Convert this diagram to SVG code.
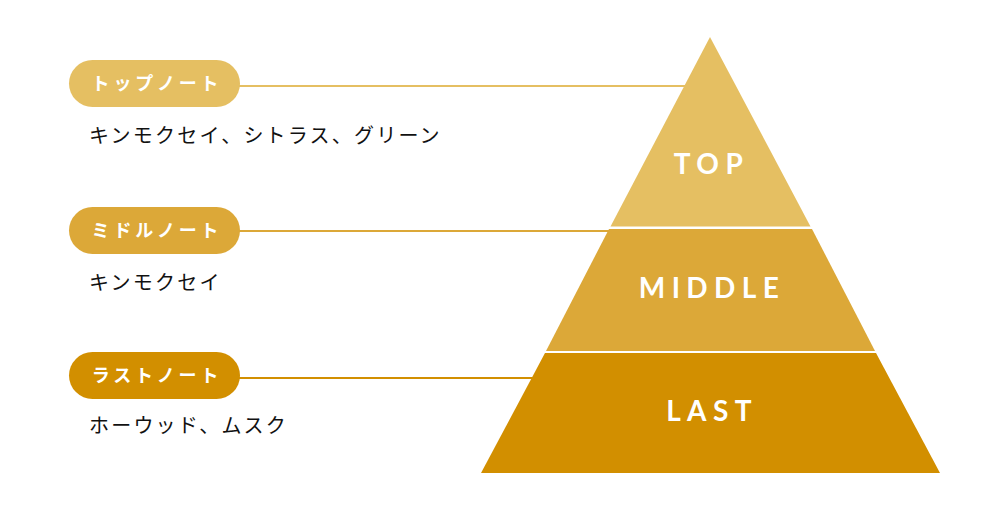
<svg xmlns="http://www.w3.org/2000/svg" width="1000" height="515" viewBox="0 0 1000 515">
<style>
.pill-t{font-family:"Noto Sans CJK JP","Noto Sans",sans-serif;font-weight:700;font-size:18px;fill:#fff;letter-spacing:3.8px;text-anchor:middle}
.desc{font-family:"Noto Sans CJK JP","Noto Sans",sans-serif;font-weight:400;font-size:20px;fill:#111;letter-spacing:2.2px}
.lvl{font-family:Lato,"Open Sans",sans-serif;font-weight:700;font-size:28px;fill:#fff;letter-spacing:6.4px;text-anchor:middle}
.conn{stroke-width:2;fill:none}
</style>
<rect width="1000" height="515" fill="#fff"/>
<g id="connectors">
<line class="conn" x1="235" y1="86" x2="686" y2="86" stroke="#E5BF62"/>
<line class="conn" x1="235" y1="231" x2="610" y2="231" stroke="#DCA838"/>
<line class="conn" x1="235" y1="378" x2="533" y2="378" stroke="#D28F00"/>
</g>
<g id="pyramid">
<polygon id="top" points="710,37 810.5,226.5 610.5,226.5" fill="#E5BF62"/>
<polygon id="middle" points="609,229 812,229 875,351 546,351" fill="#DCA838"/>
<polygon id="last" points="545,353 876,353 940,473 481,473" fill="#D28F00"/>
<text class="lvl" x="711.5" y="174">TOP</text>
<text class="lvl" x="712" y="298">MIDDLE</text>
<text class="lvl" x="712" y="421">LAST</text>
</g>
<g id="note-top">
<rect x="69" y="60" width="171" height="47" rx="23.5" fill="#E5BF62"/>
<text class="pill-t" x="157" y="90">トップノート</text>
<text class="desc" x="89" y="143">キンモクセイ、シトラス、グリーン</text>
</g>
<g id="note-middle">
<rect x="69" y="207" width="171" height="47" rx="23.5" fill="#DCA838"/>
<text class="pill-t" x="157" y="237">ミドルノート</text>
<text class="desc" x="89" y="290">キンモクセイ</text>
</g>
<g id="note-last">
<rect x="69" y="352" width="171" height="47" rx="23.5" fill="#D28F00"/>
<text class="pill-t" x="157" y="382">ラストノート</text>
<text class="desc" x="89" y="433">ホーウッド、ムスク</text>
</g>
</svg>
